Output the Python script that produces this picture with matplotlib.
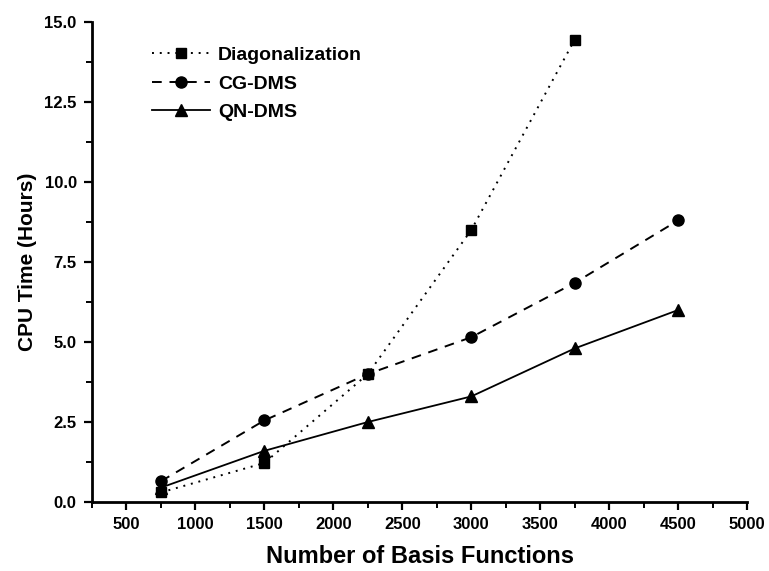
import matplotlib; matplotlib.use("Agg")
import matplotlib.pyplot as plt
from matplotlib.ticker import MultipleLocator

plt.rcParams["font.family"] = "Liberation Sans"
plt.rcParams["font.weight"] = "bold"

# data
diag_x = [750, 1500, 2250, 3000, 3750]
diag_y = [0.30, 1.22, 4.0, 8.5, 14.45]
cg_x = [750, 1500, 2250, 3000, 3750, 4500]
cg_y = [0.65, 2.55, 4.0, 5.15, 6.85, 8.8]
qn_x = [750, 1500, 2250, 3000, 3750, 4500]
qn_y = [0.45, 1.6, 2.5, 3.3, 4.8, 6.0]

fig = plt.figure(figsize=(7.69, 5.71), dpi=100)
ax = fig.add_axes([0.1196, 0.1208, 0.852, 0.8407])

ax.plot(diag_x, diag_y, ls=(0, (1, 3)), color="black", lw=1.4, marker="s", ms=7, label="Diagonalization")
ax.plot(cg_x, cg_y, ls=(0, (5, 4)), color="black", lw=1.4, marker="o", ms=8, label="CG-DMS")
ax.plot(qn_x, qn_y, ls="-", color="black", lw=1.3, marker="^", ms=8, label="QN-DMS")

ax.set_xlim(250, 5000)
ax.set_ylim(0, 15)
ax.xaxis.set_major_locator(MultipleLocator(500))
ax.xaxis.set_minor_locator(MultipleLocator(250))
ax.yaxis.set_major_locator(MultipleLocator(2.5))
ax.yaxis.set_minor_locator(MultipleLocator(1.25))
ax.yaxis.set_major_formatter(plt.FormatStrFormatter("%.1f"))
for s in ("top", "right"):
    ax.spines[s].set_visible(False)
for s in ("left", "bottom"):
    ax.spines[s].set_linewidth(2)
ax.tick_params(which="major", direction="out", length=6, width=1.6, labelsize=12, pad=5)
ax.tick_params(which="minor", direction="out", length=4, width=1.4)

ax.set_xlabel("Number of Basis Functions", fontsize=17, fontweight="bold", labelpad=9)
ax.set_ylabel("CPU Time (Hours)", fontsize=15, fontweight="bold", labelpad=5)

ax.legend(loc="upper left", bbox_to_anchor=(0.065, 0.985), frameon=False, fontsize=14,
          handlelength=3, handletextpad=0.4, labelspacing=0.55)

fig.savefig("out.png", dpi=100)
